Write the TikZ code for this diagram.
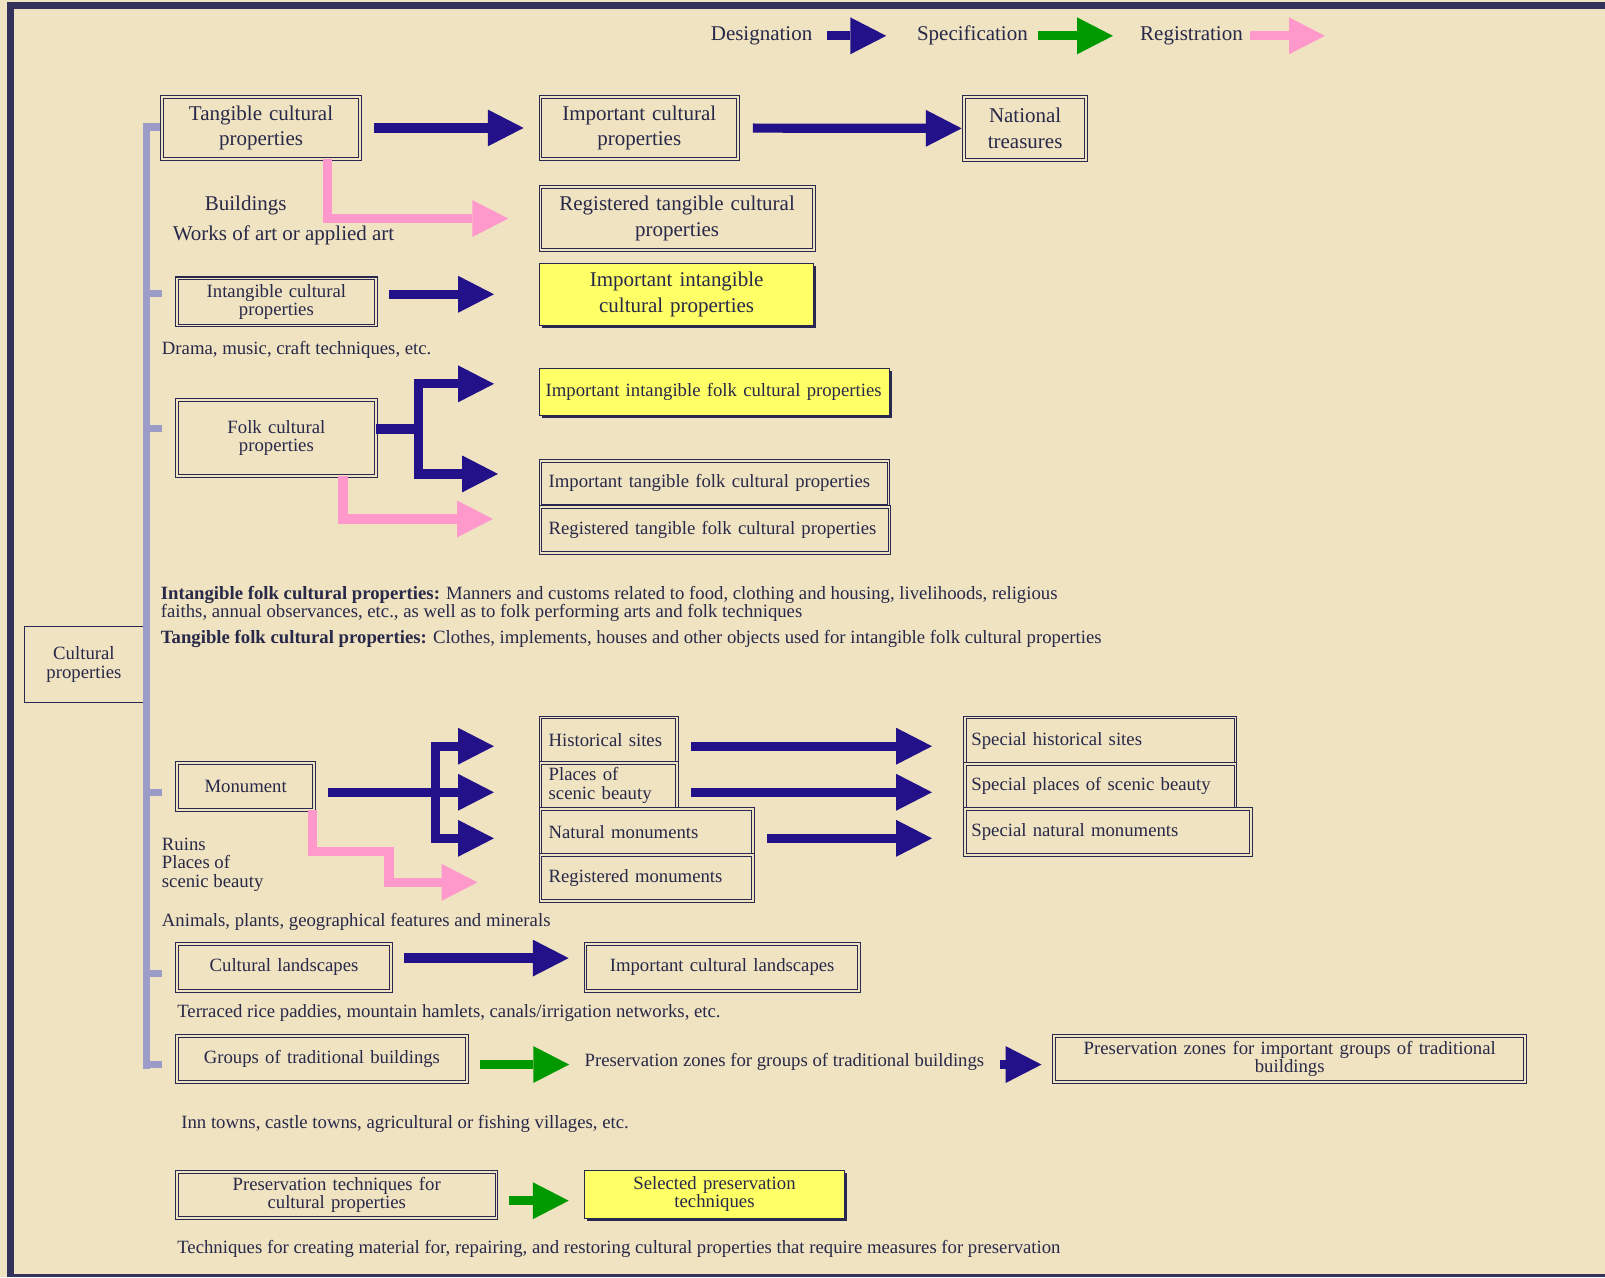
\documentclass[tikz,border=0pt]{standalone}
\usepackage{fontspec}
\setmainfont{Liberation Serif}
\usepackage{tikz}
\usetikzlibrary{arrows.meta, positioning, shadows}
\usepackage{xcolor}

\definecolor{paper}{RGB}{239,227,194}
\definecolor{frame}{RGB}{50,50,90}
\definecolor{boxline}{RGB}{40,40,80}
\definecolor{ink}{RGB}{40,40,72}
\definecolor{desnavy}{RGB}{34,17,136}
\definecolor{specgreen}{RGB}{0,153,0}
\definecolor{regpink}{RGB}{255,153,204}
\definecolor{lavender}{RGB}{156,156,200}
\definecolor{boxyellow}{RGB}{255,255,102}

\newcommand\bigfnt{\fontsize{20.5}{25}\selectfont}
\newcommand\smallfnt{\fontsize{18.3}{18}\selectfont}

\begin{document}
\begin{tikzpicture}[x=1pt, y=-1pt,
    box/.style={draw=boxline, line width=1pt, double=paper, double distance=1.8pt,
        inner xsep=8pt, inner ysep=0pt, text=ink},
    bigbox/.style={box, font=\bigfnt, align=center},
    smallbox/.style={box, font=\smallfnt, align=center},
    leftbox/.style={box, font=\smallfnt, align=left},
    ybox/.style={fill=boxyellow, draw=boxline, line width=0.8pt, inner xsep=8pt, inner ysep=0pt, text=ink,
        drop shadow={shadow xshift=2.5pt, shadow yshift=-2.5pt, fill=boxline, opacity=1}},
    note/.style={text=ink, font=\smallfnt, anchor=west, inner sep=0pt, align=left},
    label/.style={text=ink, font=\bigfnt, inner sep=0pt},
    desigline/.style={draw=desnavy, line width=9pt},
    desig/.style={desigline, -{Triangle[length=35pt, width=36pt, line width=0pt]}},
    spec/.style={desig, draw=specgreen},
    regis/.style={desig, draw=regpink},
    bracket/.style={draw=lavender, line width=7pt}]

    % paper and frame
    \useasboundingbox (0,0) rectangle (1568,1248);
    \fill[paper] (0,0) rectangle (1568,1248);
    \fill[frame] (6.5,1.6) rectangle (1568,9.1);
    \fill[frame] (6.5,1.6) rectangle (13.7,1248);
    \fill[frame] (6.5,1244.6) rectangle (1568,1248);

    % legend
    \node[label] (des) at (744,35) {Designation};
    \node[label] (spe) at (950,35) {Specification};
    \node[label] (reg) at (1164,35) {Registration};
    \draw[desig] ([xshift=14pt]des.east) -- ([xshift=72pt]des.east);
    \draw[spec] ([xshift=10pt]spe.east) -- ([xshift=83pt]spe.east);
    \draw[regis] ([xshift=7pt]reg.east) -- ([xshift=80pt]reg.east);

    % root and bracket
    \node[draw=boxline, line width=1.2pt, font=\smallfnt, align=center, text=ink,
        text width=100pt, minimum height=74pt, inner xsep=8pt, inner ysep=0pt] (cp) at (82,649) {Cultural\\properties};
    \coordinate (spine) at (143.5,120);
    \draw[bracket] (spine) -- (143.5,1044);
    \foreach \y in {124,287,419,774,951,1040}
        \draw[bracket] (143.5,\y) -- (158,\y);

    % tangible
    \node[bigbox, text width=178pt, minimum height=60pt] (tcp) at (255,125) {Tangible cultural\\properties};
    \node[bigbox, text width=177pt, minimum height=60pt] (icp) at (624.5,125) {Important cultural\\properties};
    \node[bigbox, text width=103pt, minimum height=61pt] (nt) at (1001.5,125.5) {National\\treasures};
    \node[bigbox, text width=251pt, minimum height=61pt] (rtcp) at (661.5,213.5) {Registered tangible cultural\\properties};
    \node[label] (bld) at (240,201) {Buildings};
    \node[label] (art) at (277,230) {Works of art or applied art};

    % intangible
    \node[smallbox, text width=178pt, minimum height=46pt] (intcp) at (270,295) {Intangible cultural\\properties};
    \node[ybox, font=\bigfnt, align=center, text width=252pt, minimum height=61pt] (iicp) at (661,287.5) {Important intangible\\cultural properties};
    \node[note] (drama) at (158,342) {Drama, music, craft techniques, etc.};

    % folk
    \node[smallbox, text width=178pt, minimum height=74pt] (fcp) at (270,428) {Folk cultural\\properties};
    \node[ybox, font=\smallfnt, align=left, text width=330pt, inner xsep=6pt, minimum height=46pt] (iifcp) at (698,383) {Important intangible folk cultural properties};
    \node[leftbox, text width=324pt, minimum height=44pt] (itfcp) at (698,472) {Important tangible folk cultural properties};
    \node[leftbox, text width=325pt, minimum height=45pt] (rtfcp) at (698.5,517.5) {Registered tangible folk cultural properties};
    \node[note] (ifdef) at (157,590) {\textbf{Intangible folk cultural properties:} Manners and customs related to food, clothing and housing, livelihoods, religious\\faiths, annual observances, etc., as well as to folk performing arts and folk techniques};
    \node[note] (tfdef) at (157,624) {\textbf{Tangible folk cultural properties:} Clothes, implements, houses and other objects used for intangible folk cultural properties};

    % monuments
    \node[smallbox, text width=118pt, minimum height=46pt] (mon) at (240,768) {Monument};
    \node[leftbox, text width=117pt, minimum height=44pt] (hs) at (594.5,723) {Historical sites};
    \node[leftbox, text width=117pt, minimum height=45pt] (psb) at (594.5,767.5) {Places of\\scenic beauty};
    \node[leftbox, text width=192pt, minimum height=45pt] (nm) at (632,812.5) {Natural monuments};
    \node[leftbox, text width=192pt, minimum height=45pt] (rm) at (632,857.5) {Registered monuments};
    \node[leftbox, text width=252pt, minimum height=45pt, inner xsep=6pt] (shs) at (1075,723.5) {Special historical sites};
    \node[leftbox, text width=252pt, minimum height=44pt, inner xsep=6pt] (spsb) at (1075,768) {Special places of scenic beauty};
    \node[leftbox, text width=267pt, minimum height=45pt, inner xsep=6pt] (snm) at (1082.5,812.5) {Special natural monuments};
    \node[note] (ruins) at (158,844.5) {Ruins\\Places of\\scenic beauty};
    \node[note] (anim) at (158,901) {Animals, plants, geographical features and minerals};

    % landscapes
    \node[smallbox, text width=193pt, minimum height=46pt] (cl) at (277.5,945) {Cultural landscapes};
    \node[smallbox, text width=251pt, minimum height=46pt] (icl) at (705.5,945) {Important cultural landscapes};
    \node[note] (terr) at (173,990) {Terraced rice paddies, mountain hamlets, canals/irrigation networks, etc.};

    % traditional buildings
    \node[smallbox, text width=267pt, minimum height=45pt] (gtb) at (314.5,1034.5) {Groups of traditional buildings};
    \node[note] (pzg) at (571,1037) {Preservation zones for groups of traditional buildings};
    \node[smallbox, text width=444pt, minimum height=45pt] (pzig) at (1260,1034.5) {Preservation zones for important groups of traditional\\buildings};
    \node[note] (inn) at (177,1098) {Inn towns, castle towns, agricultural or fishing villages, etc.};

    % techniques
    \node[smallbox, text width=296pt, minimum height=45pt] (ptcp) at (329,1167.5) {Preservation techniques for\\cultural properties};
    \node[ybox, font=\smallfnt, align=center, text width=238pt, minimum height=47pt] (spt) at (698,1166.5) {Selected preservation\\techniques};
    \node[note] (tech) at (173,1220) {Techniques for creating material for, repairing, and restoring cultural properties that require measures for preservation};

    % connectors
    \path (tcp) edge[desig, shorten <=13pt, shorten >=16pt] (icp)
          (icp) edge[desig, shorten <=14pt, shorten >=2pt] (nt);
    \draw[regis] ([xshift=65pt]tcp.south) |- ([xshift=-31pt]rtcp.west);
    \draw[desig, shorten <=13pt, shorten >=44pt] (intcp.east |- iicp.west) -- (iicp.west);

    \coordinate (ffork) at ([xshift=41pt, yshift=9pt]fcp.east);
    \draw[desigline] ([yshift=9pt]fcp.east) -- (ffork);
    \draw[desig] (ffork) |- ([xshift=-44pt, yshift=8pt]iifcp.west);
    \draw[desig] (ffork) |- ([xshift=-41pt, yshift=9pt]itfcp.west);
    \draw[regis] ([xshift=65pt]fcp.south) |- ([xshift=-46pt, yshift=10.5pt]rtfcp.west);

    \coordinate (mfork) at ([xshift=118pt, yshift=-6pt]mon.east);
    \draw[desig, shorten <=13pt, shorten >=45pt] ([yshift=-6pt]mon.east) -- ([yshift=-6.5pt]psb.west);
    \draw[desig] (mfork) |- ([xshift=-45pt, yshift=-6pt]hs.west);
    \draw[desig] (mfork) |- ([xshift=-45pt, yshift=-6.5pt]nm.west);
    \coordinate (mstep) at (380,832);
    \draw[regis] ([xshift=65pt]mon.south) |- (mstep) |- ([xshift=-61pt, yshift=-4.5pt]rm.west);
    \draw[desig, shorten <=14pt, shorten >=32pt] ([yshift=-6pt]hs.east) -- ([yshift=-5.5pt]shs.west);
    \draw[desig, shorten <=14pt, shorten >=32pt] ([yshift=-6.5pt]psb.east) -- ([yshift=-6pt]spsb.west);
    \draw[desig, shorten <=13pt, shorten >=32pt] ([yshift=-6.5pt]nm.east) -- ([yshift=-6.5pt]snm.west);

    \draw[desig, shorten <=12pt, shorten >=16pt] ([yshift=9pt]cl.east) -- ([yshift=9pt]icl.west);
    \draw[spec, shorten <=12pt, shorten >=15pt] ([yshift=-5.5pt]gtb.east) -- ([yshift=-3pt]pzg.west);
    \draw[desig, shorten <=15pt, shorten >=12pt] ([yshift=-3pt]pzg.east) -- ([yshift=-5.5pt]pzig.west);
    \draw[spec, shorten <=12pt, shorten >=15pt] ([yshift=-5.5pt]ptcp.east) -- ([yshift=-6.5pt]spt.west);
\end{tikzpicture}
\end{document}
